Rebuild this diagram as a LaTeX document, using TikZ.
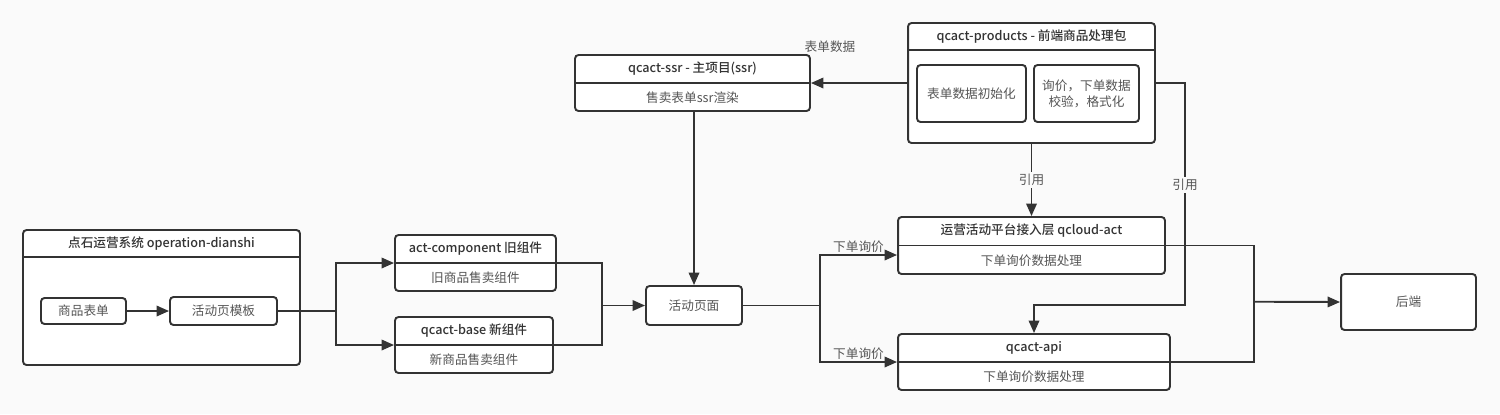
\documentclass[tikz,border=0pt]{standalone}
\usepackage{fontspec}
\setmainfont{Noto Sans CJK SC}
\newfontfamily\medfont{Noto Sans CJK SC Medium}
\usetikzlibrary{positioning, arrows.meta, calc}
\definecolor{bgcol}{HTML}{FAFAFA}
\definecolor{linecol}{HTML}{333333}
\definecolor{subcol}{HTML}{555555}
\tikzset{
  box/.style={rectangle, rounded corners=2pt, draw=linecol, line width=1.1pt, fill=white, inner sep=0pt},
  titletxt/.style={font=\fontsize{7.2}{8.4}\selectfont\medfont, text=linecol},
  subtxt/.style={font=\fontsize{7.2}{9}\selectfont, text=subcol, align=center},
  link/.style={draw=linecol, line width=1.1pt},
  arrow/.style={link, -{Triangle[length=0.25cm,width=0.21cm]}},
  tag/.style={font=\fontsize{7.2}{8.4}\selectfont, text=subcol, inner sep=1pt}
}
% box with a title row and a text row, split in the middle
\newcommand{\modbox}[6]{
    \node[box, minimum width=#3cm, minimum height=#4cm] (#1) at (#2) {};
    \draw[link] (#1.west) -- (#1.east);
    \node[titletxt] (#1-t) at ($(#1.north)!0.5!(#1.center)$) {#5};
    \node[subtxt] (#1-s) at ($(#1.south)!0.5!(#1.center)$) {#6};
}

\begin{document}
\begin{tikzpicture}[x=0.02cm, y=-0.02cm]
    % background, same size as the reference
    \fill[bgcol] (0,0) rectangle (1500,414);
    \useasboundingbox (0,0) rectangle (1500,414);

    % ==========================================
    % 1. Operation system (left)
    % ==========================================
    \node[box, minimum width=5.54cm, minimum height=2.7cm] (ops) at (161.5,297.5) {};
    \draw[link] ($(ops.north west)+(0,28)$) -- ($(ops.north east)+(0,28)$);
    \node[titletxt] (ops-t) at ($(ops.north)+(0,14)$) {点石运营系统 operation-dianshi};
    \node[box, subtxt, minimum width=1.7cm, minimum height=0.52cm] (form) at (83.5,311) {商品表单};
    \node[box, subtxt, minimum width=2.14cm, minimum height=0.56cm] (tpl) at (223.5,311) {活动页模板};
    \draw[arrow] (form) -- (tpl);

    % ==========================================
    % 2. Components and page
    % ==========================================
    \modbox{actcomp}{475.5,263}{3.22}{1.12}{act-component 旧组件}{旧商品售卖组件}
    \modbox{base}{474,345}{3.16}{1.12}{qcact-base 新组件}{新商品售卖组件}
    \node[box, subtxt, minimum width=1.92cm, minimum height=0.78cm] (page) at (694,305.5) {活动页面};

    \coordinate (sp1) at (336,311);
    \draw[link] (tpl.east) -- (sp1);
    \draw[arrow] (sp1) |- (actcomp.west);
    \draw[arrow] (sp1) |- (base.west);

    \coordinate (mg1) at (602,305.5);
    \draw[link] (actcomp.east) -| (mg1);
    \draw[link] (base.east) -| (mg1);
    \draw[arrow] (mg1) -- (page.west);

    % ==========================================
    % 3. ssr project and products package (top)
    % ==========================================
    \modbox{ssr}{692.5,83}{4.7}{1.12}{qcact-ssr - 主项目(ssr)}{售卖表单ssr渲染}

    \node[box, minimum width=4.94cm, minimum height=2.4cm] (products) at (1031.5,83) {};
    \draw[link] ($(products.north west)+(0,28)$) -- ($(products.north east)+(0,28)$);
    \node[titletxt] (products-t) at ($(products.north)+(0,14)$) {qcact-products - 前端商品处理包};
    \node[box, subtxt, minimum width=2.18cm, minimum height=1.14cm] (init) at (971.5,93.5) {表单数据初始化};
    \node[box, subtxt, minimum width=2.1cm, minimum height=1.14cm] (check) at (1086.5,93.5) {询价，下单数据\\校验，格式化};

    \draw[arrow] (ssr.south -| page.north) -- (page.north);
    \draw[arrow] (products.west) -- (ssr.east);
    \node[tag] (formdata) at (830,47) {表单数据};

    % ==========================================
    % 4. Access layer, api and backend (right)
    % ==========================================
    \modbox{qcloud}{1031.5,245.5}{5.34}{1.14}{运营活动平台接入层 qcloud-act}{下单询价数据处理}
    \modbox{api}{1034,362}{5.44}{1.12}{qcact-api}{下单询价数据处理}
    \node[box, subtxt, minimum width=2.7cm, minimum height=1.12cm] (backend) at (1408.5,302) {后端};

    \draw[arrow] (products.south) -- node[tag, fill=bgcol] (ref1) {引用} (qcloud.north);
    \coordinate (rt) at (1185,305);
    \draw[arrow] (products.east) -| (rt) -| (api.north);
    \node[tag, fill=bgcol] (ref2) at (1185,185) {引用};

    \coordinate (sp2) at (820,305.5);
    \draw[link] (page.east) -- (sp2);
    \draw[arrow] (sp2) |- ($(qcloud.west)+(0,9.5)$) node[tag, pos=0.75, above] (ask1) {下单询价};
    \draw[arrow] (sp2) |- (api.west) node[tag, pos=0.75, above] (ask2) {下单询价};

    \coordinate (mg2) at (1254,301.7);
    \draw[link] (qcloud.east) -| (mg2);
    \draw[link] (api.east) -| (mg2);
    \draw[arrow] (mg2) -- (backend.west);
\end{tikzpicture}
\end{document}
